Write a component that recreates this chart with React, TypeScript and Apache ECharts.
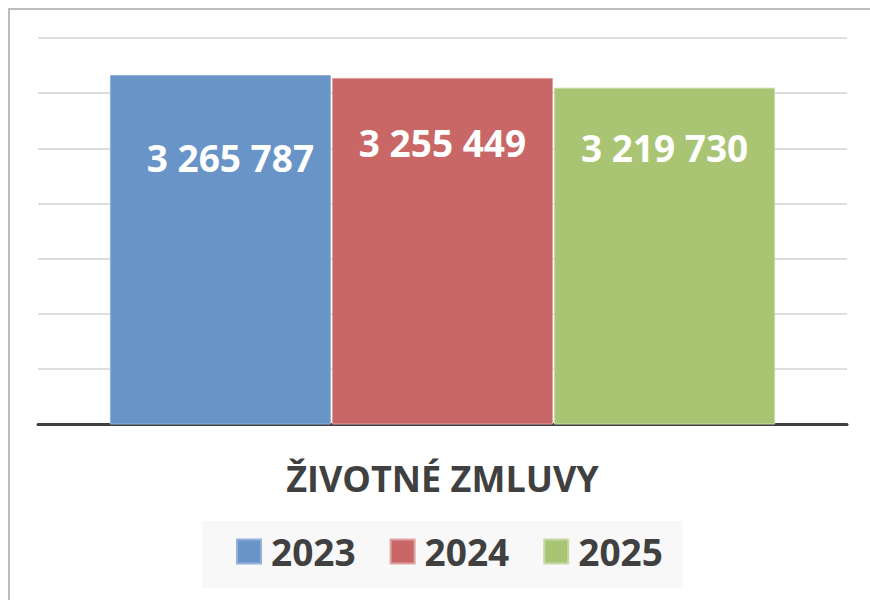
import React, { useEffect, useRef } from "react";
import * as echarts from "echarts";

const categories = ["ŽIVOTNÉ ZMLUVY"];
const seriesNames = ["2023", "2024", "2025"];
const seriesValues = [[3265787], [3255449], [3219730]];
const colors = ["#6894c8", "#c96766", "#a9c573"];
const borderColors = ["#93b2da", "#dea3a2", "#c6daa6"];
const labelDistances = [64, 46, 41];
const labelOffsets = [[10, 0], [0, 0], [0, 0]];

const fmt = (v: number) =>
  String(v).replace(/\B(?=(\d{3})+(?!\d))/g, " ");

export default function App() {
  const ref = useRef<HTMLDivElement>(null);
  useEffect(() => {
    if (!ref.current) return;
    const chart = echarts.init(ref.current, undefined, { renderer: "svg" });
    chart.setOption({
      animation: false,
      backgroundColor: "#ffffff",
      graphic: [
        {
          type: "rect",
          shape: { x: 9, y: 9, width: 880, height: 620 },
          style: { fill: "none", stroke: "#bcbcbc", lineWidth: 2 },
          silent: true,
          z: -10,
        },
        {
          type: "rect",
          shape: { x: 202, y: 521, width: 481, height: 67 },
          style: { fill: "#f8f8f8" },
          silent: true,
          z: -10,
        },
      ],
      grid: { left: 38, right: 23, top: 38, bottom: 176 },
      legend: {
        data: seriesNames,
        left: 236,
        top: 533,
        padding: 0,
        itemWidth: 24,
        itemHeight: 24,
        itemGap: 34,
        icon: "rect",
        textStyle: {
          fontFamily: "Open Sans",
          fontWeight: "bold",
          fontSize: 37,
          color: "#404040",
          padding: [0, 0, 0, 5],
        },
      },
      xAxis: {
        type: "category",
        data: categories,
        axisLine: { lineStyle: { color: "#404040", width: 3 } },
        axisTick: { show: false },
        axisLabel: {
          margin: 36,
          fontFamily: "Open Sans",
          fontWeight: "bold",
          fontSize: 36,
          color: "#404040",
        },
      },
      yAxis: {
        type: "value",
        min: 2000000,
        max: 3400000,
        interval: 200000,
        axisLabel: { show: false },
        axisLine: { show: false },
        axisTick: { show: false },
        splitLine: { lineStyle: { color: "#dedede", width: 2 } },
      },
      series: seriesNames.map((name, i) => ({
        name,
        type: "bar",
        data: seriesValues[i],
        barWidth: 221,
        barGap: "0.5%",
        itemStyle: {
          color: colors[i],
          borderColor: borderColors[i],
          borderWidth: 1,
        },
        label: {
          show: true,
          position: "insideTop",
          distance: labelDistances[i],
          offset: labelOffsets[i],
          formatter: (p: any) => fmt(p.value),
          fontFamily: "Open Sans",
          fontWeight: "bold",
          fontSize: 37,
          color: "#ffffff",
        },
      })),
    });
    return () => chart.dispose();
  }, []);
  return (
    <div
      ref={ref}
      style={{ position: "fixed", left: 0, top: 0, width: 870, height: 600 }}
    />
  );
}
